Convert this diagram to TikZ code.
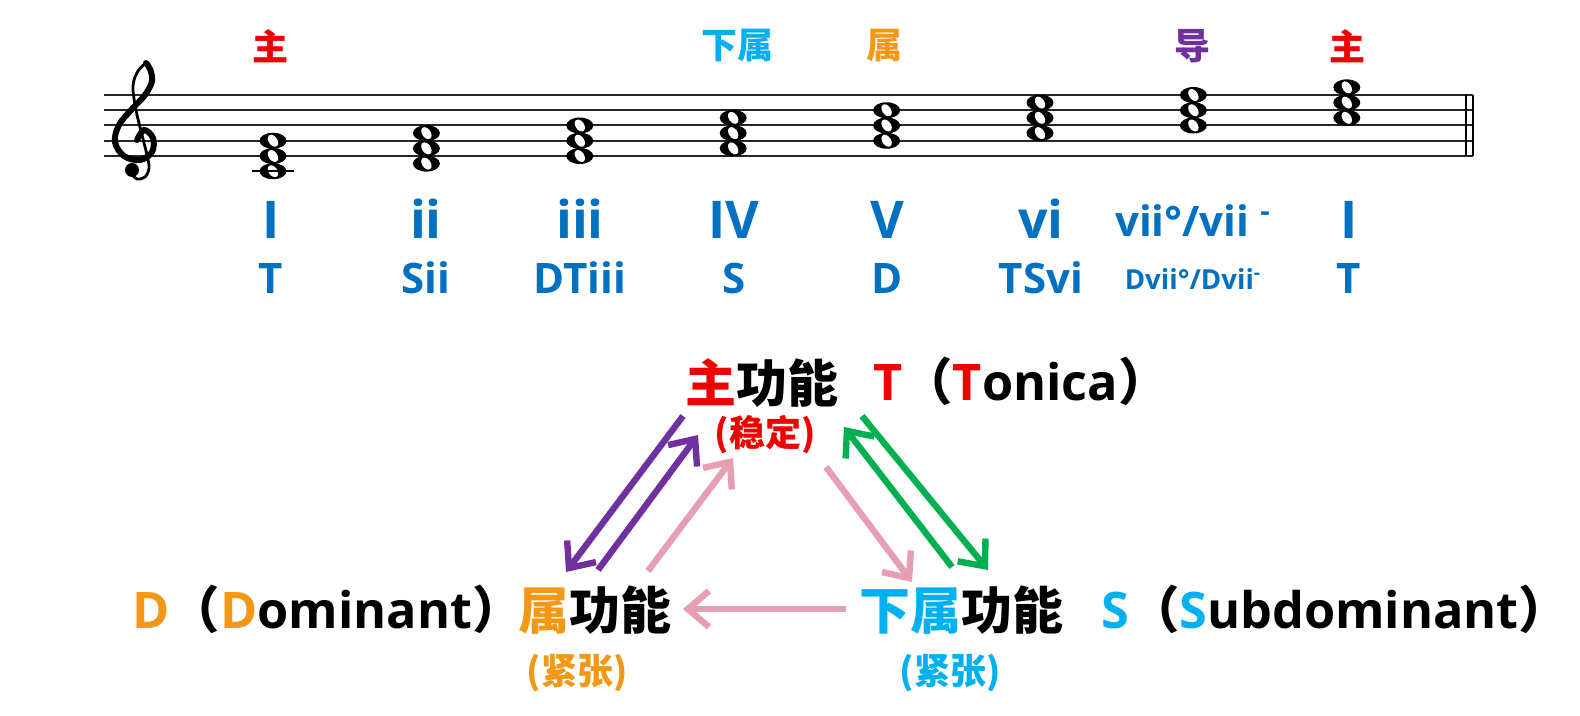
\documentclass[tikz,border=0pt]{standalone}
\usepackage{fontspec}
\setmainfont{Open Sans}
\newfontfamily\cjk{Noto Sans CJK SC}
\usetikzlibrary{arrows.meta}
\definecolor{cred}{RGB}{240,0,0}
\definecolor{ccyan}{RGB}{0,176,240}
\definecolor{corange}{RGB}{242,152,20}
\definecolor{cpurple}{RGB}{112,48,160}
\definecolor{cblue}{RGB}{0,112,192}
\definecolor{cgreen}{RGB}{0,176,80}
\definecolor{cpink}{RGB}{229,158,178}
\begin{document}
\begin{tikzpicture}[x=0.5pt,y=-0.5pt,
  staffline/.style={line width=1pt, black!85},
  toplabel/.style={font=\cjk\bfseries\fontsize{18}{18}\selectfont, inner sep=0pt},
  numeral/.style={font=\bfseries\fontsize{26}{26}\selectfont, text=cblue, anchor=base, inner sep=0pt},
  func/.style={font=\bfseries\fontsize{21}{21}\selectfont, text=cblue, anchor=base, inner sep=0pt},
  big/.style={font=\cjk\bfseries\fontsize{25.5}{25.5}\selectfont, inner sep=0pt},
  biglat/.style={font=\bfseries\fontsize{25.2}{25.2}\selectfont, inner sep=0pt, anchor=base west},
  small/.style={font=\cjk\bfseries\fontsize{18}{18}\selectfont, inner sep=0pt},
  arr/.style={line width=3.2pt, -{Straight Barb[length=10.5pt,width=18pt]}},
]
\useasboundingbox (0,0) rectangle (1580,716);
\fill[white] (0,0) rectangle (1580,716);

% staff
\foreach \i in {0,...,4}
  \draw[staffline] (104,{95+15.25*\i}) -- (1473,{95+15.25*\i});
\draw[line width=1.2pt] (1466,95) -- (1466,156);
\draw[line width=1pt] (1473,95) -- (1473,156);

% treble clef
\draw[line width=3pt, line cap=round] plot[smooth, tension=0.6] coordinates
  {(137,140) (144,130) (153,138) (152,152) (140,160) (124,156) (115,142) (119,125) (132,109) (145,95) (152,81) (150,69) (146,63)};
\draw[line width=1.4pt, line cap=round] plot[smooth, tension=0.6] coordinates
  {(146,63) (138,71) (133,86) (136,110) (142,135) (147,155) (149,168) (145,177) (137,179) (132,174)};
\fill (132,170) circle [radius=7];

% chords
\foreach \k/\a in {0/-2,1/-1,2/0,3/1,4/2,5/3,6/4,7/5} {
  \foreach \j in {0,1,2} {
    \pgfmathsetmacro{\nx}{273+153.4*\k}
    \pgfmathsetmacro{\ny}{156-7.625*(\a+2*\j)}
    \fill (\nx,\ny) ellipse [x radius=13.5, y radius=8];
    \fill[white, rotate around={35:(\nx,\ny)}] (\nx,\ny) ellipse [x radius=4.3, y radius=6.6];
  }
}
\draw[line width=1pt] (252,171.25) -- (294,171.25);

% top labels
\node[toplabel, text=cred] (l1) at (270,46) {主};
\node[toplabel, text=ccyan] (l4) at (737,46) {下属};
\node[toplabel, text=corange] (l5) at (884,46) {属};
\node[toplabel, text=cpurple] (l7) at (1192,46) {导};
\node[toplabel, text=cred] (l8) at (1347,46) {主};

% roman numerals
\node[numeral] (r1) at (271,239) {I};
\node[numeral] (r2) at (426,239) {ii};
\node[numeral] (r3) at (580,239) {iii};
\node[numeral] (r4) at (734,239) {IV};
\node[numeral] (r5) at (887,239) {V};
\node[numeral] (r6) at (1041,239) {vi};
\node[numeral, font=\bfseries\fontsize{21}{21}\selectfont] (r7) at (1193,237) {vii°/vii \textsuperscript{-}};
\node[numeral] (r8) at (1349,239) {I};

\node[func] (f1) at (271,294) {T};
\node[func] (f2) at (426,294) {Sii};
\node[func] (f3) at (580,294) {DTiii};
\node[func] (f4) at (734,294) {S};
\node[func] (f5) at (887,294) {D};
\node[func] (f6) at (1041,294) {TSvi};
\node[func, font=\bfseries\fontsize{13.8}{13.8}\selectfont] (f7) at (1193,290) {Dvii°/Dvii\textsuperscript{-}};
\node[func] (f8) at (1349,294) {T};

% function triangle
\node[big] (tonic) at (762,383) {\textcolor{cred}{主}功能};
\node[biglat] (tonicname) at (873,401) {\textcolor{cred}{T}{\cjk（}\textcolor{cred}{T}onica{\cjk）}};
\node[small, text=cred] (stable) at (765,435) {(稳定)};

\node[big] (dom) at (595,610) {\textcolor{corange}{属}功能};
\node[biglat] (domname) at (132,628) {\textcolor{corange}{D}{\cjk（}\textcolor{corange}{D}ominant{\cjk）}};
\node[small, text=corange] (domt) at (577,673) {(紧张)};

\node[big] (sub) at (961,610) {\textcolor{ccyan}{下属}功能};
\node[biglat] (subname) at (1101,628) {\textcolor{ccyan}{S}{\cjk（}\textcolor{ccyan}{S}ubdominant{\cjk）}};
\node[small, text=ccyan] (subt) at (950,673) {(紧张)};

% arrow ends
\coordinate (p1s) at (683,416); \coordinate (p1e) at (566,572);
\coordinate (p2s) at (598,570); \coordinate (p2e) at (698,435);
\coordinate (k1s) at (648,571); \coordinate (k1e) at (733,458);
\coordinate (k2s) at (826,467); \coordinate (k2e) at (912,582);
\coordinate (g1s) at (952,567); \coordinate (g1e) at (844,427);
\coordinate (g2s) at (862,416); \coordinate (g2e) at (988,570);
\coordinate (k3s) at (846,609); \coordinate (k3e) at (683,609);

\draw[arr, cpurple] (p1s) -- (p1e);
\draw[arr, cpurple] (p2s) -- (p2e);
\draw[arr, cpink] (k1s) -- (k1e);
\draw[arr, cpink] (k2s) -- (k2e);
\draw[arr, cgreen] (g1s) -- (g1e);
\draw[arr, cgreen] (g2s) -- (g2e);
\draw[arr, cpink] (k3s) -- (k3e);
\end{tikzpicture}
\end{document}
